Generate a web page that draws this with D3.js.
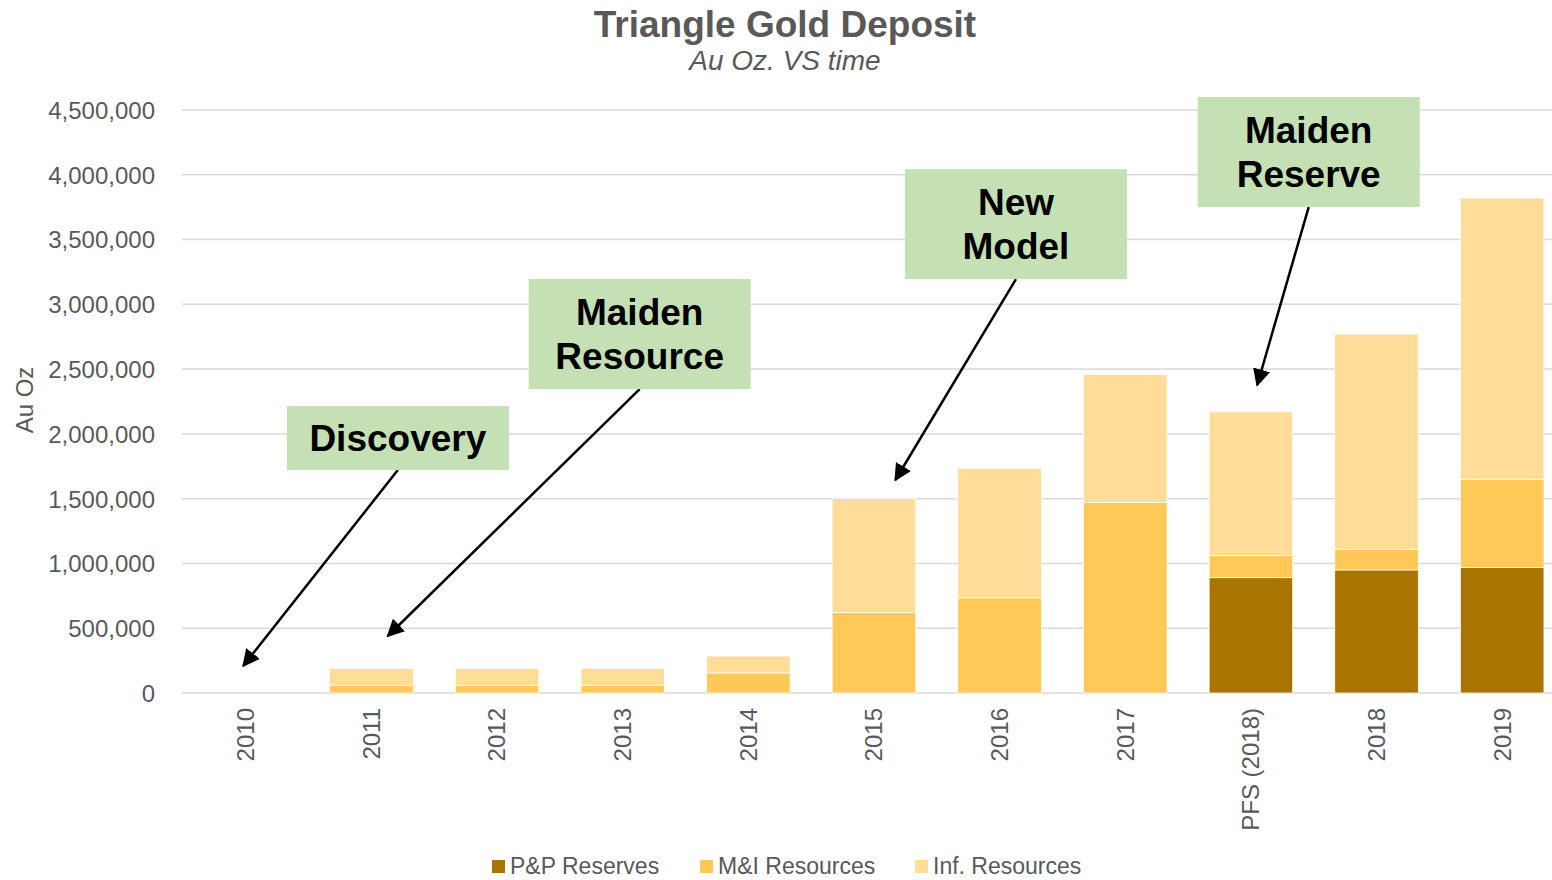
<!DOCTYPE html>
<html>
<head>
<meta charset="utf-8">
<script src="https://cdn.jsdelivr.net/npm/d3@7"></script>
<style>
  body { margin: 0; background: #fff; }
  svg { display: block; font-family: "Liberation Sans", Arial, sans-serif; }
</style>
</head>
<body>
<svg width="1552" height="880"></svg>
<script>
var WIDTH = 1552
var HEIGHT = 880

// chart data
var categories = ["2010", "2011", "2012", "2013", "2014", "2015", "2016", "2017", "PFS (2018)", "2018", "2019"];
var ppReserves = [0, 0, 0, 0, 0, 0, 0, 0, 890000, 950000, 970000];
var miResources = [0, 60000, 60000, 60000, 155000, 620000, 735000, 1470000, 170000, 160000, 680000];
var infResources = [0, 130000, 130000, 130000, 130000, 880000, 1000000, 990000, 1110000, 1660000, 2170000];
var yTicks = [0, 500000, 1000000, 1500000, 2000000, 2500000, 3000000, 3500000, 4000000, 4500000];
var seriesNames = ["P&P Reserves", "M&I Resources", "Inf. Resources"];
var seriesColors = ["#aa7400", "#ffc857", "#ffdc98"];

// callouts: tip = [category, value, offset in steps], box centre = [category, offset in steps], box top value
var callouts = [
    { lines: ["Discovery"], tipCat: "2010", tipOff: -0.02, tipVal: 210000, boxCat: "2011", boxOff: 0.21, boxTop: 2215000 },
    { lines: ["Maiden", "Resource"], tipCat: "2011", tipOff: 0.13, tipVal: 440000, boxCat: "2013", boxOff: 0.135, boxTop: 3195000 },
    { lines: ["New", "Model"], tipCat: "2015", tipOff: 0.17, tipVal: 1644000, boxCat: "2016", boxOff: 0.13, boxTop: 4044000 },
    { lines: ["Maiden", "Reserve"], tipCat: "PFS (2018)", tipOff: 0.05, tipVal: 2377000, boxCat: "PFS (2018)", boxOff: 0.46, boxTop: 4600000 }
];

var svg = d3.select("svg");

var x = d3.scaleBand()
    .domain(categories)
    .range([183, 1565])
    .paddingInner(0.335)
    .paddingOuter(0.1675);

var y = d3.scaleLinear()
    .domain([0, 4500000])
    .range([693, 110]);

// gridlines
svg.append("g")
    .selectAll("line")
    .data(yTicks)
    .join("line")
    .attr("x1", 182)
    .attr("x2", WIDTH)
    .attr("y1", function (d) { return y(d); })
    .attr("y2", function (d) { return y(d); })
    .style("stroke", "#d9d9d9")
    .style("stroke-width", 1.5);

// y axis labels
var yAxis = d3.axisLeft(y)
    .tickValues(yTicks)
    .tickSize(0)
    .tickPadding(0)
    .tickFormat(d3.format(","));

var yg = svg.append("g")
    .attr("transform", "translate(155,0)")
    .call(yAxis);
yg.select(".domain").remove();
yg.selectAll("text")
    .style("font-size", "24px")
    .style("fill", "#595959")
    .style("font-family", "Liberation Sans, Arial, sans-serif")
    .attr("dy", "0.35em");

svg.append("text")
    .attr("transform", "translate(33,400) rotate(-90)")
    .attr("text-anchor", "middle")
    .style("font-size", "24px")
    .style("fill", "#595959")
    .text("Au Oz");

// stacked bars
var rows = categories.map(function (c, i) {
    return { cat: c, s0: ppReserves[i], s1: miResources[i], s2: infResources[i] };
});
var stack = d3.stack().keys(["s0", "s1", "s2"]);
var layers = stack(rows);

svg.append("g")
    .selectAll("g")
    .data(layers)
    .join("g")
    .style("fill", function (d, i) { return seriesColors[i]; })
    .selectAll("rect")
    .data(function (d) { return d; })
    .join("rect")
    .attr("x", function (d) { return x(d.data.cat); })
    .attr("width", x.bandwidth())
    .attr("y", function (d) { return y(d[1]); })
    .attr("height", function (d) { return y(d[0]) - y(d[1]); })
    .style("stroke", "#fff")
    .style("stroke-width", 0.75);

// x axis labels
var xg = svg.append("g")
    .attr("transform", "translate(0,708)")
    .call(d3.axisBottom(x).tickSize(0).tickPadding(0));
xg.select(".domain").remove();
xg.selectAll("text")
    .attr("transform", "rotate(-90)")
    .attr("text-anchor", "end")
    .attr("x", 0)
    .attr("y", 0)
    .attr("dy", "0.35em")
    .style("font-size", "24px")
    .style("fill", "#595959")
    .style("font-family", "Liberation Sans, Arial, sans-serif");

// title
svg.append("text")
    .attr("x", 785)
    .attr("y", 37)
    .attr("text-anchor", "middle")
    .style("font-size", "37px")
    .style("font-weight", "bold")
    .style("fill", "#595959")
    .text("Triangle Gold Deposit");

svg.append("text")
    .attr("x", 785)
    .attr("y", 70)
    .attr("text-anchor", "middle")
    .style("font-size", "28px")
    .style("font-style", "italic")
    .style("fill", "#595959")
    .text("Au Oz. VS time");

// callouts
svg.append("defs").append("marker")
    .attr("id", "arrow")
    .attr("viewBox", "0 0 10 10")
    .attr("refX", 9)
    .attr("refY", 5)
    .attr("markerWidth", 7)
    .attr("markerHeight", 7)
    .attr("markerUnits", "strokeWidth")
    .attr("orient", "auto")
    .append("path")
    .attr("d", "M0,0 L10,5 L0,10 z")
    .style("fill", "#000");

var step = x.step();
var boxW = 222;
var lineH = 44;

callouts.forEach(function (c) {
    var bx = x(c.boxCat) + x.bandwidth() / 2 + c.boxOff * step;
    var by = y(c.boxTop);
    var bh = c.lines.length == 1 ? 64 : 110;
    var tx = x(c.tipCat) + x.bandwidth() / 2 + c.tipOff * step;
    var ty = y(c.tipVal);

    svg.append("line")
        .attr("x1", bx)
        .attr("y1", by + bh)
        .attr("x2", tx)
        .attr("y2", ty)
        .style("stroke", "#000")
        .style("stroke-width", 2.5)
        .attr("marker-end", "url(#arrow)");

    svg.append("rect")
        .attr("x", bx - boxW / 2)
        .attr("y", by)
        .attr("width", boxW)
        .attr("height", bh)
        .style("fill", "#c5e0b4");

    var firstBase = by + bh / 2 - (c.lines.length - 1) * lineH / 2 + 13;
    c.lines.forEach(function (l, i) {
        svg.append("text")
            .attr("x", bx)
            .attr("y", firstBase + i * lineH)
            .attr("text-anchor", "middle")
            .style("font-size", "37px")
            .style("font-weight", "bold")
            .style("fill", "#000")
            .text(l);
    });
});

// legend
var legendX = [492, 700, 915];
var legend = svg.append("g")
    .selectAll("g")
    .data(seriesNames)
    .join("g")
    .attr("transform", function (d, i) { return "translate(" + legendX[i] + ",860)"; });

legend.append("rect")
    .attr("width", 13)
    .attr("height", 13)
    .style("fill", function (d, i) { return seriesColors[i]; });

legend.append("text")
    .attr("x", 18)
    .attr("y", 14)
    .style("font-size", "23px")
    .style("fill", "#595959")
    .text(function (d) { return d; });
</script>
</body>
</html>
